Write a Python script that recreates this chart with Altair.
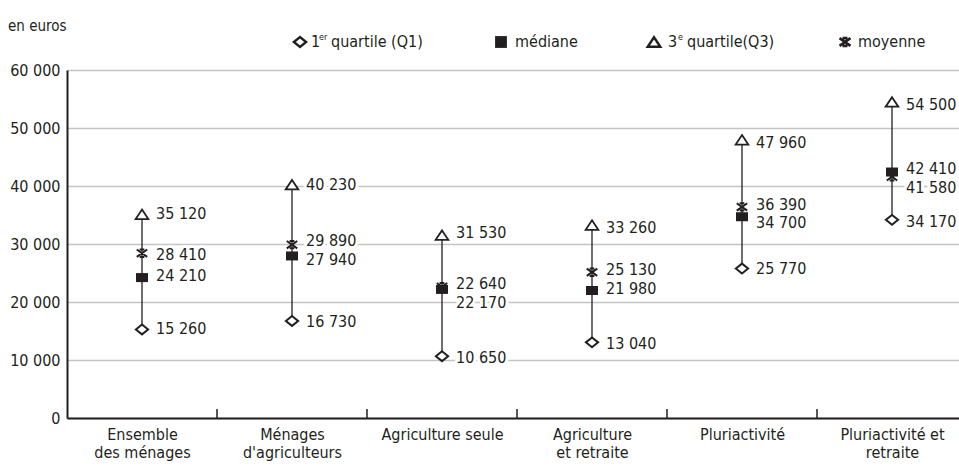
import altair as alt
import pandas as pd

# Household income distribution by type of household (euros)
categories = [
    "Ensemble\ndes ménages",
    "Ménages\nd'agriculteurs",
    "Agriculture seule",
    "Agriculture\net retraite",
    "Pluriactivité",
    "Pluriactivité et\nretraite",
]
q1 = [15260, 16730, 10650, 13040, 25770, 34170]
median = [24210, 27940, 22170, 21980, 34700, 42410]
q3 = [35120, 40230, 31530, 33260, 47960, 54500]
mean = [28410, 29890, 22640, 25130, 36390, 41580]

y_ticks = [0, 10000, 20000, 30000, 40000, 50000, 60000]

# vertical nudges (px, downwards) that keep close labels apart
label_nudge = {
    "q1": [0, 1, 2, 2, 0, 2],
    "median": [-2, 4, 14, -2, 6, -3],
    "q3": [0, 0, -2, 3, 3, 3],
    "mean": [2, -4, -3, -2, -2, 11],
}

FONT = "Liberation Sans Narrow, DejaVu Sans Condensed, Roboto Condensed, Arial Narrow, sans-serif"
INK = "#231f20"
PLOT_H = 348
Y_MAX = 60000

ranges = pd.DataFrame({"idx": range(len(categories)), "q1": q1, "q3": q3})
stats = {"q1": q1, "median": median, "q3": q3, "mean": mean}
rows = []
for stat, vals in stats.items():
    for i, v in enumerate(vals):
        rows.append({"idx": i, "stat": stat, "value": v, "dy": label_nudge[stat][i]})
points = pd.DataFrame(rows)
bounds = pd.DataFrame({"b": [i + 0.5 for i in range(len(categories) - 1)]})

label_js = "[" + ",".join("'" + c.replace("'", "\\'").replace("\n", "|") + "'" for c in categories) + "]"

x_scale = alt.Scale(domain=[-0.5, 5.4467], nice=False, zero=False)
y_scale = alt.Scale(domain=[0, Y_MAX], nice=False)

x_enc = alt.X(
    "idx:Q",
    scale=x_scale,
    axis=alt.Axis(
        values=list(range(len(categories))),
        labelExpr=f"split({label_js}[datum.value], '|')",
        title=None,
        grid=False,
        ticks=False,
        domainColor=INK,
        domainWidth=2,
        labelFont=FONT,
        labelFontSize=16,
        labelColor=INK,
        labelPadding=8,
        labelLineHeight=18,
        labelFlush=False,
        labelOverlap=False,
    ),
)
y_axis = alt.Axis(
    values=y_ticks,
    labelExpr="replace(format(datum.value, ','), ',', ' ')",
    title=None,
    grid=True,
    gridColor="#c4c4c4",
    gridWidth=1.5,
    ticks=False,
    domainColor=INK,
    domainWidth=2,
    labelFont=FONT,
    labelFontSize=16,
    labelColor=INK,
    labelPadding=7,
)

base_pts = alt.Chart(points).encode(
    x=alt.X("idx:Q", scale=x_scale),
    y=alt.Y("value:Q", scale=y_scale),
)

axes = alt.Chart(ranges).mark_rule(color=INK, strokeWidth=1.3).encode(
    x=x_enc,
    y=alt.Y("q1:Q", scale=y_scale, axis=y_axis),
    y2="q3:Q",
)

ticks = alt.Chart(bounds).mark_rule(color=INK, strokeWidth=1.5).encode(
    x=alt.X("b:Q", scale=x_scale),
    y=alt.value(PLOT_H - 9),
    y2=alt.value(PLOT_H),
)

# label text comes from the value; its anchor is shifted by the pixel nudge
label_base = alt.Chart(points).transform_calculate(
    txt="replace(format(datum.value, ','), ',', ' ')",
    pos=f"datum.value - datum.dy * {Y_MAX} / {PLOT_H}",
).encode(
    x=alt.X("idx:Q", scale=x_scale),
    y=alt.Y("pos:Q", scale=y_scale),
    text="txt:N",
)
halo = label_base.mark_text(
    align="left", baseline="middle", dx=14, font=FONT, fontSize=16,
    stroke="white", strokeWidth=6, strokeJoin="round", fill="white",
)
labels = label_base.mark_text(
    align="left", baseline="middle", dx=14, font=FONT, fontSize=16, color=INK,
)

DIAMOND = "M-1,0L0,-0.8L1,0L0,0.8Z"
TRIANGLE = "M0,-0.75L1,0.75L-1,0.75Z"
SQUARE = "M-1,-0.75H1V0.75H-1Z"
STAR = "M-1,-0.7L1,0.7M1,-0.7L-1,0.7M-0.45,-0.7H0.45M-0.45,0.7H0.45"

m_q1 = base_pts.transform_filter("datum.stat == 'q1'").mark_point(
    shape=DIAMOND, size=150, filled=True, fill="white", stroke=INK, strokeWidth=2, opacity=1)
m_q3 = base_pts.transform_filter("datum.stat == 'q3'").mark_point(
    shape=TRIANGLE, size=160, filled=True, fill="white", stroke=INK, strokeWidth=1.8, opacity=1)
m_med = base_pts.transform_filter("datum.stat == 'median'").mark_point(
    shape=SQUARE, size=144, filled=True, fill=INK, strokeWidth=0, opacity=1)
m_mean = base_pts.transform_filter("datum.stat == 'mean'").mark_point(
    shape=STAR, size=110, filled=False, stroke=INK, strokeWidth=2, opacity=1)

# Legend row and unit note above the plot area
one = pd.DataFrame({"k": [0]})
leg = alt.Chart(one)
LY = -28
legend_layers = [
    leg.mark_point(shape=DIAMOND, size=150, filled=True, fill="white", stroke=INK, strokeWidth=2.4, opacity=1)
    .encode(x=alt.value(233), y=alt.value(LY)),
    leg.mark_text(text="1", align="left", baseline="middle", font=FONT, fontSize=16, color=INK)
    .encode(x=alt.value(244), y=alt.value(LY)),
    leg.mark_text(text="er", align="left", baseline="middle", font=FONT, fontSize=9, color=INK)
    .encode(x=alt.value(252), y=alt.value(LY - 5)),
    leg.mark_text(text="quartile (Q1)", align="left", baseline="middle", font=FONT, fontSize=16, color=INK)
    .encode(x=alt.value(264), y=alt.value(LY)),
    leg.mark_point(shape="square", size=140, filled=True, fill=INK, strokeWidth=0, opacity=1)
    .encode(x=alt.value(434), y=alt.value(LY)),
    leg.mark_text(text="médiane", align="left", baseline="middle", font=FONT, fontSize=16, color=INK)
    .encode(x=alt.value(448), y=alt.value(LY)),
    leg.mark_point(shape=TRIANGLE, size=160, filled=True, fill="white", stroke=INK, strokeWidth=2.4, opacity=1)
    .encode(x=alt.value(587), y=alt.value(LY)),
    leg.mark_text(text="3", align="left", baseline="middle", font=FONT, fontSize=16, color=INK)
    .encode(x=alt.value(601), y=alt.value(LY)),
    leg.mark_text(text="e", align="left", baseline="middle", font=FONT, fontSize=9, color=INK)
    .encode(x=alt.value(611), y=alt.value(LY - 5)),
    leg.mark_text(text="quartile(Q3)", align="left", baseline="middle", font=FONT, fontSize=16, color=INK)
    .encode(x=alt.value(620), y=alt.value(LY)),
    leg.mark_point(shape=STAR, size=120, filled=False, stroke=INK, strokeWidth=2.6, opacity=1)
    .encode(x=alt.value(778), y=alt.value(LY)),
    leg.mark_text(text="moyenne", align="left", baseline="middle", font=FONT, fontSize=16, color=INK)
    .encode(x=alt.value(791), y=alt.value(LY)),
    leg.mark_text(text="en euros", align="left", baseline="middle", font=FONT, fontSize=15, color=INK)
    .encode(x=alt.value(-59), y=alt.value(-44)),
]

chart = alt.layer(
    axes, ticks, halo, labels, m_q1, m_q3, m_med, m_mean, *legend_layers
).properties(
    width=892,
    height=PLOT_H,
    padding={"left": 67, "top": 70, "right": 0, "bottom": 49},
    autosize=alt.AutoSizeParams(type="none"),
).configure_view(stroke=None).configure(background="white")

chart.save("out.html", embed_options={"renderer": "svg", "actions": False})
